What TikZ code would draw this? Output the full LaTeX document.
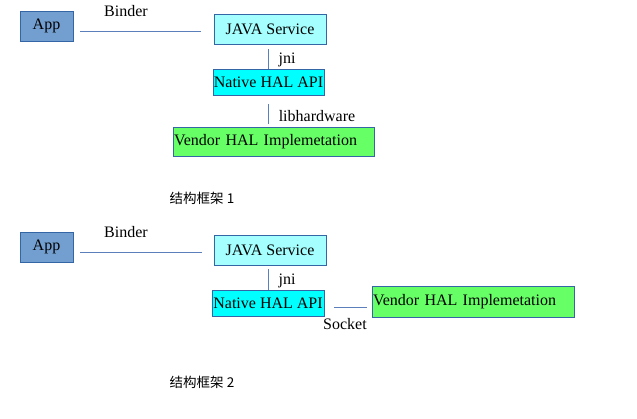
\documentclass[tikz,border=0pt]{standalone}
\usepackage{fontspec}
\setmainfont{Liberation Serif}
\newfontfamily\cjk{Noto Sans CJK SC}
\usepackage{tikz}
\usetikzlibrary{arrows.meta,positioning,calc}
\definecolor{bordc}{HTML}{3465A4}
\definecolor{appc}{HTML}{729FCF}
\definecolor{javac}{HTML}{A6FFFF}
\definecolor{natc}{HTML}{00FFFF}
\definecolor{venc}{HTML}{66FF66}
\definecolor{linkc}{HTML}{5B7FBA}

\begin{document}
\begin{tikzpicture}[x=1pt,y=-1pt,font=\fontsize{16}{18}\selectfont,
  box/.style={draw=bordc,line width=0.8pt,inner sep=0pt,align=center},
  lnk/.style={draw=linkc,line width=0.9pt},
  captext/.style={font=\cjk\fontsize{13.5}{15}\selectfont}]
\useasboundingbox (0,0) rectangle (637,419);

% framework 1
\node (app1) [box,fill=appc,minimum width=53pt,minimum height=30pt] at (46.5,26) {App};
\node (java1) [box,fill=javac,minimum width=112pt,minimum height=30pt] at (270,29) {JAVA Service};
\node (nat1) [box,fill=natc,minimum width=111pt,minimum height=26pt] at (268.5,82) {Native HAL API};
\node (ven1) [box,fill=venc,minimum height=29pt,text width=199pt,align=left,inner xsep=1pt] at (273.5,141.5) {Vendor HAL Implemetation};
\draw[lnk,shorten <=7pt,shorten >=13pt] (app1.east) ++(0,5) coordinate (b1) -- (b1 -| java1.west);
\draw[lnk,shorten <=5pt] (nat1.north |- java1.south) -- (nat1.north);
\draw[lnk,shorten <=9pt,shorten >=3pt] (nat1.south) -- (nat1.south |- ven1.north);
\node (binder1) at (126,11) {Binder};
\node (jni1) at (287,60) {jni};
\node (libhw) at (317,116) {libhardware};
\node (cap1) [captext] at (202,198) {结构框架 1};

% framework 2
\node (app2) [box,fill=appc,minimum width=53pt,minimum height=30pt] at (46.5,247) {App};
\node (java2) [box,fill=javac,minimum width=112pt,minimum height=30pt] at (270,250) {JAVA Service};
\node (nat2) [box,fill=natc,minimum width=112pt,minimum height=26pt] at (268,303) {Native HAL API};
\node (ven2) [box,fill=venc,minimum height=31pt,text width=200pt,align=left,inner xsep=1pt] at (473,301.5) {Vendor HAL Implemetation};
\draw[lnk,shorten <=7pt,shorten >=12pt] (app2.east) ++(0,5) coordinate (b2) -- (b2 -| java2.west);
\draw[lnk,shorten <=4pt] (nat2.north |- java2.south) -- (nat2.north);
\draw[lnk,shorten <=10pt,shorten >=5pt] ([yshift=-4pt]nat2.east) -- ([yshift=-4pt]nat2.east -| ven2.west);
\node (binder2) at (126,232) {Binder};
\node (jni2) at (287,281) {jni};
\node (sock) at (345,324) {Socket};
\node (cap2) [captext] at (202,382) {结构框架 2};
\end{tikzpicture}
\end{document}
